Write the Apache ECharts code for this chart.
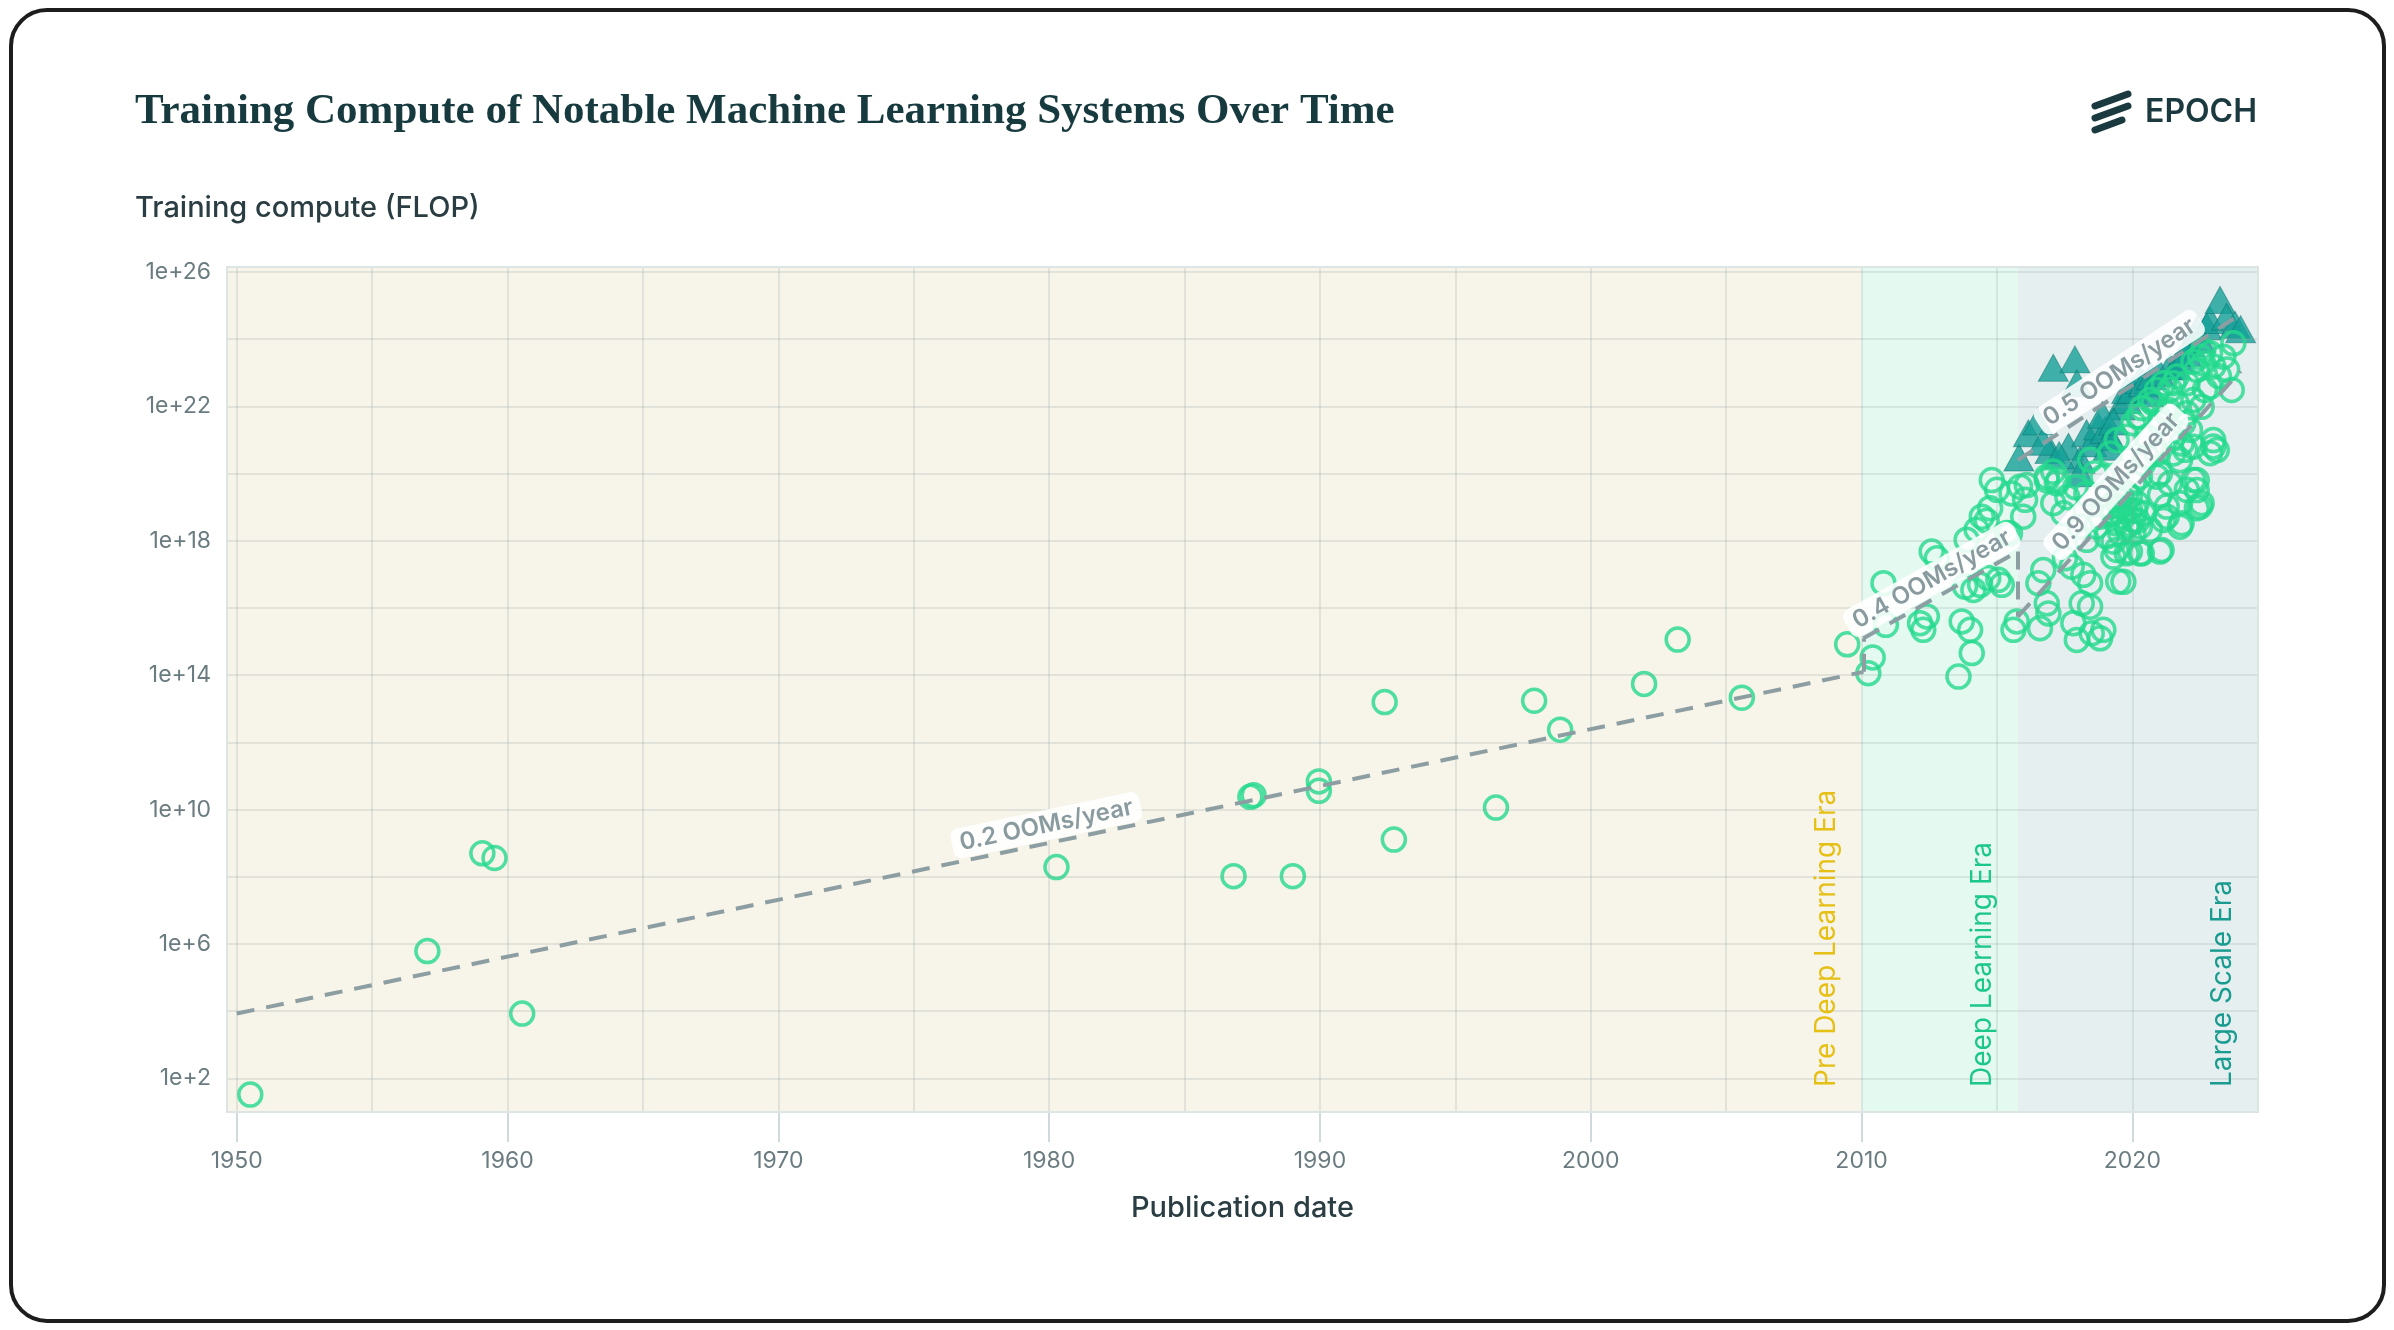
<!DOCTYPE html>
<html><head><meta charset="utf-8">
<script src="https://cdn.jsdelivr.net/npm/echarts@6/dist/echarts.min.js"></script>
<style>html,body{margin:0;padding:0;background:#fff}#c{width:2394px;height:1330px}</style>
</head><body><div id="c"></div>
<script>
// ---------- axis ticks / grid values ----------
const xTickYears = [1950, 1960, 1970, 1980, 1990, 2000, 2010, 2020];
const xGridYears = [1950, 1955, 1960, 1965, 1970, 1975, 1980, 1985, 1990, 1995, 2000, 2005, 2010, 2015, 2020];
const yLabelExps = [2, 6, 10, 14, 18, 22, 26];
const yGridExps = [2, 4, 6, 8, 10, 12, 14, 16, 18, 20, 22, 24, 26];
const xMin = 1949.64, xMax = 2024.64;
const yMin = 1, yMax = 26.15;

// ---------- eras ----------
const eraNames = ['Pre Deep Learning Era', 'Deep Learning Era', 'Large Scale Era'];
const eraStarts = [1949.64, 2010.0, 2015.77];
const eraEnds = [2010.0, 2015.77, 2024.64];

// ---------- data: [publication year, log10(training FLOP)] ----------
const circlesPre2010 = [
  [1950.5, 1.52], [1957.04, 5.79], [1959.07, 8.70], [1959.52, 8.56], [1960.54, 3.93],
  [1980.27, 8.29], [1986.81, 8.02], [1987.43, 10.38], [1987.55, 10.43], [1989.0, 8.02],
  [1989.96, 10.84], [1989.96, 10.56], [1992.39, 13.20], [1992.73, 9.11], [1996.50, 10.06],
  [1997.91, 13.24], [1998.87, 12.38], [2001.97, 13.74], [2003.21, 15.06], [2005.58, 13.33],
  [2009.47, 14.92]
];
const circlesPost2010 = [
  [2010.25,14.06],[2010.41,14.53],[2010.81,16.74],[2010.90,15.50],
  [2012.16,15.55],[2012.41,15.75],[2012.28,15.35],[2012.59,17.68],[2012.78,17.48],
  [2013.58,13.96],[2013.70,15.60],[2014.07,14.66],[2014.01,15.35],[2013.88,18.03],[2013.82,16.64],
  [2014.13,16.54],[2014.38,16.69],[2014.68,16.89],[2015.05,16.84],[2015.18,16.69],[2014.25,18.33],[2014.44,18.72],
  [2014.62,18.60],[2014.75,18.97],[2014.81,19.81],[2015.00,19.52],[2015.36,18.23],[2015.61,15.35],[2015.73,15.60],
  [2015.54,19.41],[2015.97,18.72],[2015.48,18.22],[2015.85,19.61],
  [2016.04,19.22],[2016.10,19.66],[2016.53,16.74],[2016.71,17.13],[2016.84,16.14],[2016.90,15.84],[2016.59,15.40],
  [2016.84,19.81],[2017.08,20.06],[2017.21,19.71],[2017.08,19.12],[2017.45,18.82],[2017.51,17.48],[2017.76,17.23],
  [2017.82,15.55],[2017.95,15.05],[2018.13,16.14],[2018.19,16.99],[2018.44,16.74],[2018.44,16.04],[2018.50,15.25],
  [2018.81,15.10],[2018.93,15.35],
  [2019.48,16.79],[2019.42,17.73],[2019.30,17.53],[2019.91,17.68],[2020.35,17.63],[2021.08,17.73],[2021.82,18.52],
  [2021.76,19.12],[2022.38,18.97],
  [2022.99,20.81],[2022.87,20.61],[2021.95,20.71],[2021.82,20.90],
  [2023.67,22.49],[2023.73,23.88],[2023.36,23.48],[2022.87,23.58],[2022.50,23.48],[2022.25,23.33],[2022.99,23.19],
  [2022.62,23.68],[2023.20,22.90],[2023.50,23.10],
  [2021.52,22.69],[2021.15,22.69],[2020.90,22.49],[2020.65,22.19],[2020.35,21.95],[2020.22,21.70],[2020.04,21.50],
  [2019.79,21.10],
  [2022.25,22.19],[2022.56,21.99],[2022.68,22.49],[2021.64,22.09],[2021.33,21.90],[2021.02,21.50],[2020.53,21.10],
  [2020.41,20.31],[2020.04,19.71],[2019.79,19.42],[2020.90,19.91],[2021.39,19.71],[2021.02,19.37],[2021.27,18.72],
  [2022.01,19.52],[2022.25,19.81],[2022.56,19.12],[2020.65,18.33],[2021.15,18.62],
  [2018.81,18.72],[2018.68,18.42],[2019.05,18.13],[2019.30,17.98],[2018.07,18.42],[2018.32,18.03],
  [2019.30,18.82],[2019.55,19.02],[2019.67,18.72],[2019.91,18.92],[2020.04,18.62],[2019.79,18.42],[2020.16,19.12],
  [2020.28,18.42],[2019.42,18.52],[2019.18,19.02],[2019.91,19.32],[2020.41,18.82],[2019.55,18.23],[2020.04,18.23],
  [2019.60,19.30],[2020.10,18.90],[2019.90,18.50],[2019.45,19.25],[2019.75,18.95],[2020.20,18.60],
  [2020.90,20.60],[2020.53,20.51],[2021.52,21.10],[2021.88,21.50],[2022.13,21.30],[2023.12,20.70],
  [2016.84,19.91],[2017.27,19.81],[2018.44,20.41],[2018.62,20.01],[2019.18,20.60],[2019.42,21.00],
  [2017.90,19.60],[2018.30,19.40],[2018.90,19.90],[2017.60,19.30],
  [2022.38,23.09],[2022.62,23.28],[2022.87,22.59],[2022.01,22.69],[2021.64,22.89],[2021.39,22.49],[2020.78,22.09],
  [2020.28,21.70],
  [2022.99,21.00],[2022.25,20.80],[2021.76,20.40],[2021.51,20.60],[2021.02,20.01],[2022.38,19.81],[2020.28,19.91],
  [2022.01,21.80],[2021.27,21.80],
  [2021.76,18.42],[2022.50,19.02],[2022.38,19.51],[2021.02,17.68],[2020.28,17.63],[2019.67,16.78],[2021.27,19.02],
  [2019.79,17.63]
];
const trianglesLargeScale = [
  [2015.81,20.48],[2016.16,21.20],[2016.50,21.55],[2016.96,20.70],[2017.08,23.15],[2017.88,23.40],[2017.95,22.69],
  [2017.64,20.80],[2018.07,20.41],[2018.07,20.01],[2018.31,21.20],[2018.50,20.90],[2018.75,21.40],[2019.00,21.30],
  [2019.11,20.80],[2019.18,21.10],[2019.55,22.00],[2019.79,22.19],[2019.79,22.49],[2020.00,22.50],[2020.28,22.79],
  [2020.41,22.69],[2020.70,22.90],[2021.00,23.00],[2021.39,23.19],[2021.60,23.20],[2021.76,23.38],[2022.13,23.88],
  [2022.38,24.28],[2022.50,24.00],[2022.75,24.38],[2022.87,24.57],[2023.24,25.17],[2023.48,24.67],[2023.79,24.43],
  [2024.00,24.30],[2016.70,20.95],[2017.30,20.55],[2018.90,21.75],[2019.30,21.55],[2020.60,22.40],[2022.00,23.60]
];

// ---------- trend lines (year, log10 FLOP) ----------
const trendFrom = [[1950.0, 3.93], [2010.07, 14.10], [2010.07, 15.10], [2015.77, 17.68], [2015.77, 15.74], [2015.77, 20.40]];
const trendTo   = [[2010.07, 14.10], [2010.07, 15.10], [2015.77, 17.68], [2015.77, 15.74], [2024.0, 23.05], [2024.0, 24.75]];
const trendLabels = ['0.2 OOMs/year', '', '0.4 OOMs/year', '', '0.9 OOMs/year', '0.5 OOMs/year'];

const eraBg = ['#f7f4e9', '#e4f9f0', '#e6eff0'];
const eraText = ['#e6c016', '#1cc78a', '#1a9b8f'];
const SANS = 'Inter, Roboto, sans-serif';

const chart = echarts.init(document.getElementById('c'), null, {renderer: 'canvas'});

const option = {
  animation: false,
  backgroundColor: '#ffffff',
  title: [
    {text: 'Training Compute of Notable Machine Learning Systems Over Time', left: 135, top: 90, padding: 0,
     textStyle: {fontFamily: 'Liberation Serif', fontSize: 43, fontWeight: 'bold', color: '#173a3f'}},
    {text: 'Training compute (FLOP)', left: 135, top: 194, padding: 0,
     textStyle: {fontFamily: SANS, fontSize: 29, fontWeight: 500, color: '#2a3d42'}}
  ],
  grid: {left: 227, right: 136, top: 267, bottom: 218, show: true, z: 10,
         backgroundColor: 'transparent', borderColor: '#dde4e4', borderWidth: 2},
  xAxis: {
    type: 'value', min: xMin, max: xMax,
    axisLine: {show: true, lineStyle: {color: '#d3dbdc', width: 2}},
    axisTick: {show: true, customValues: xTickYears, length: 30, lineStyle: {color: '#d0d9db', width: 2}},
    axisLabel: {customValues: xTickYears, margin: 38, fontSize: 23, color: '#6b7c81', fontFamily: SANS,
                formatter: v => String(Math.round(v))},
    splitLine: {show: false},
    name: 'Publication date', nameLocation: 'middle', nameGap: 82,
    nameTextStyle: {fontFamily: SANS, fontSize: 29, fontWeight: 500, color: '#2a3d42'}
  },
  yAxis: {
    type: 'value', min: yMin, max: yMax,
    axisLine: {show: true, lineStyle: {color: '#d3dbdc', width: 2}},
    axisTick: {show: true, inside: true, customValues: yLabelExps, length: 13, lineStyle: {color: '#cbd4d6', width: 2}},
    axisLabel: {customValues: yLabelExps, margin: 16, fontSize: 23, color: '#6b7c81', fontFamily: SANS,
                formatter: v => '1e+' + Math.round(v)},
    splitLine: {show: false}
  },
  series: [
    {
      name: 'eras', type: 'scatter', data: [], z: 1, silent: true,
      markArea: {silent: true, data: eraNames.map((n, i) => [
        {xAxis: eraStarts[i], itemStyle: {color: eraBg[i]}}, {xAxis: eraEnds[i]}
      ])}
    },
    {
      name: 'grid', type: 'scatter', data: [], z: 2, silent: true,
      markLine: {silent: true, symbol: ['none', 'none'], label: {show: false},
        lineStyle: {color: 'rgba(140,160,160,0.2)', width: 2, type: 'solid'},
        data: xGridYears.map(v => ({xAxis: v})).concat(yGridExps.map(v => ({yAxis: v})))}
    },
    {
      name: 'Large scale', type: 'scatter', data: trianglesLargeScale, z: 3,
      symbol: 'triangle', symbolSize: [30, 27],
      itemStyle: {color: '#14a097', borderColor: 'rgba(10,110,105,0.6)', borderWidth: 1}
    },
    {
      name: 'Notable pre-2010', type: 'scatter', data: circlesPre2010, z: 4,
      symbol: 'circle', symbolSize: 23,
      itemStyle: {color: 'rgba(0,0,0,0)', borderColor: '#23da8d', borderWidth: 3.5}
    },
    {
      name: 'Notable post-2010', type: 'scatter', data: circlesPost2010, z: 4,
      symbol: 'circle', symbolSize: 23,
      itemStyle: {color: 'rgba(0,0,0,0)', borderColor: '#23da8d', borderWidth: 3.5}
    },
    {
      name: 'trends', type: 'scatter', data: [], z: 6, silent: true,
      markLine: {silent: true, symbol: ['none', 'none'],
        lineStyle: {color: '#8d9ea3', width: 4, type: [18, 12]},
        label: {show: true, position: 'middle', distance: 3, fontFamily: SANS, fontSize: 24, fontWeight: 600,
                color: '#8a9ba0', backgroundColor: 'rgba(255,255,255,0.88)', borderRadius: 8, padding: [3, 8]},
        data: trendFrom.map((f, i) => [
          {coord: f, label: trendLabels[i] ? {show: true, formatter: trendLabels[i]} : {show: false}},
          {coord: trendTo[i]}
        ])}
    }
  ]
};
chart.setOption(option);

// ---------- decorations (frame, logo, era labels) ----------
const graphics = [
  {type: 'rect', silent: true, z: 100, shape: {x: 11, y: 10, width: 2373, height: 1311, r: 36},
   style: {fill: 'none', stroke: '#1d1d1d', lineWidth: 4}},
  {type: 'line', z: 100, shape: {x1: 2095, y1: 106, x2: 2128, y2: 94}, style: {stroke: '#1b3a40', lineWidth: 7, lineCap: 'round'}},
  {type: 'line', z: 100, shape: {x1: 2095, y1: 118, x2: 2128, y2: 106}, style: {stroke: '#1b3a40', lineWidth: 7, lineCap: 'round'}},
  {type: 'line', z: 100, shape: {x1: 2095, y1: 130, x2: 2122, y2: 120}, style: {stroke: '#1b3a40', lineWidth: 7, lineCap: 'round'}},
  {type: 'text', z: 100, x: 2145, y: 112, style: {text: 'EPOCH', fill: '#1b3a40', font: '600 32px Inter, Roboto, sans-serif',
   textAlign: 'left', textVerticalAlign: 'middle'}}
];
eraNames.forEach((n, i) => {
  const p = chart.convertToPixel({gridIndex: 0}, [eraEnds[i], yMin]);
  graphics.push({type: 'text', z: 50, x: p[0] - 35, y: p[1] - 25, rotation: Math.PI / 2,
    style: {text: n, fill: eraText[i], font: '28px Inter, Roboto, sans-serif', textAlign: 'left', textVerticalAlign: 'middle'}});
});
chart.setOption({graphic: graphics});
</script></body></html>
